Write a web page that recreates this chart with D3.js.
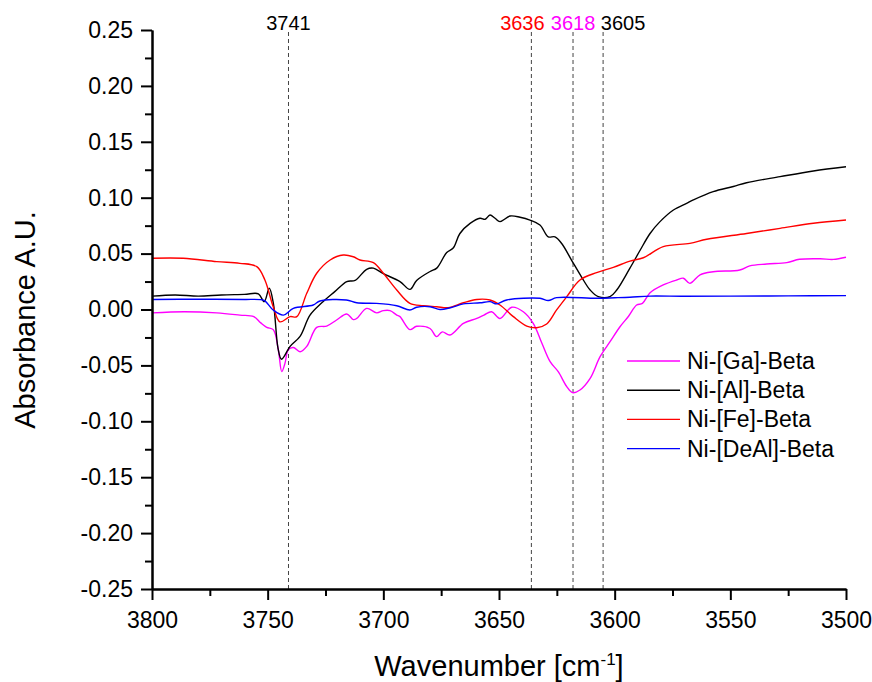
<!DOCTYPE html>
<html>
<head>
<meta charset="utf-8">
<script src="https://cdn.jsdelivr.net/npm/d3@7"></script>
<style>
  body { margin: 0; background: #fff; }
  text { font-family: "Liberation Sans", Arial, sans-serif; }
</style>
</head>
<body>
<div id="chart"></div>
<script>
// spectra: [wavenumber, absorbance]
var gaData = [
  [3800, -0.003], [3786, -0.002], [3772, -0.003], [3762, -0.005], [3756, -0.0064],
  [3753, -0.012], [3750.4, -0.016], [3747.6, -0.018], [3745.4, -0.036], [3743.9, -0.0556],
  [3742.5, -0.048], [3741.1, -0.036], [3738.9, -0.034], [3736, -0.0378], [3733.1, -0.033],
  [3728.8, -0.016], [3724.5, -0.0148], [3720.2, -0.0094], [3715.8, -0.004], [3713, -0.009],
  [3711.5, -0.008], [3707.2, 0.001], [3702.9, -0.003], [3700, -0.001], [3697.1, -0.001],
  [3694.2, -0.005], [3692.8, -0.0064], [3688.5, -0.018], [3685.6, -0.015], [3679.8, -0.017],
  [3677, -0.0243], [3674.5, -0.02], [3671.2, -0.0228], [3665.4, -0.0124], [3659.6, -0.008],
  [3656.5, -0.005], [3653.2, -0.002], [3649.6, -0.008], [3644.5, 0.002], [3639.5, -0.002],
  [3635.2, -0.0124], [3631.5, -0.030], [3627.9, -0.0467], [3624.4, -0.0556], [3620.7, -0.069],
  [3618.2, -0.0744], [3615, -0.072], [3610.6, -0.0616], [3606.3, -0.0422], [3602, -0.0288],
  [3597.7, -0.0154], [3594, -0.006], [3590.5, 0.004], [3588, 0.0055], [3584.7, 0.015],
  [3579, 0.022], [3573.2, 0.0264], [3570.3, 0.028], [3567.5, 0.0234],
  [3563.1, 0.031], [3557.4, 0.0338], [3545.9, 0.0353], [3541.6, 0.039], [3534.3, 0.0407],
  [3525.6, 0.0419], [3520.1, 0.0449], [3511.2, 0.0454], [3505.5, 0.0448], [3500, 0.0467]
];

var alData = [
  [3800, 0.012], [3790, 0.013], [3780, 0.012], [3770, 0.013], [3760, 0.0135],
  [3754, 0.014], [3751.5, 0.007], [3749.3, 0.019], [3747.5, 0.005], [3745.5, -0.035],
  [3744, -0.0445], [3740.3, -0.033], [3736, -0.024], [3731.7, -0.005], [3726.6, 0.006],
  [3721, 0.016], [3715.8, 0.025], [3712.2, 0.026], [3707.2, 0.036], [3704.3, 0.037],
  [3700, 0.032], [3692.8, 0.025], [3688.5, 0.018], [3685.6, 0.026], [3679.8, 0.034],
  [3676.9, 0.037], [3672.6, 0.051], [3669.8, 0.055], [3666.9, 0.068], [3662.5, 0.077],
  [3658.2, 0.0816], [3656, 0.0807], [3653.9, 0.0845], [3651.7, 0.0816], [3649.6, 0.0786],
  [3645.2, 0.0836], [3640.9, 0.0825], [3636.6, 0.080], [3632.3, 0.0756], [3628.7, 0.065],
  [3625.8, 0.065], [3622.9, 0.059], [3618.6, 0.044], [3614.3, 0.029], [3610.6, 0.0174],
  [3607.1, 0.0115], [3602, 0.0115], [3599.1, 0.0174], [3593.4, 0.037], [3589, 0.053],
  [3584.7, 0.068], [3580.4, 0.0786], [3574.6, 0.089], [3568.9, 0.095], [3566, 0.098],
  [3557.4, 0.1054], [3548.7, 0.110], [3543, 0.1134], [3528.5, 0.1188], [3514.1, 0.1239],
  [3500, 0.1277]
];

var feData = [
  [3800, 0.0458], [3786.5, 0.0458], [3772, 0.0428], [3762, 0.0413], [3754.7, 0.0383],
  [3751.2, 0.0264], [3747.6, 0.0025], [3744.7, -0.011], [3740.3, -0.0064], [3737.4, -0.0064],
  [3733.1, 0.0145], [3728.8, 0.0324], [3723, 0.0443], [3717.3, 0.0487], [3713, 0.0472],
  [3710.1, 0.0443], [3704.3, 0.0419], [3700, 0.0324], [3694.2, 0.0174], [3688.5, 0.0055],
  [3682.7, 0.0034], [3676.9, 0.0025], [3672, 0.0016], [3665.4, 0.006], [3659.6, 0.009],
  [3653.9, 0.0085], [3649.6, 0.004], [3643.8, -0.0064], [3638, -0.0148], [3633.7, -0.0163],
  [3629.4, -0.013], [3625.1, -0.0004], [3620.7, 0.0115], [3615, 0.0264], [3607.8, 0.033],
  [3600.6, 0.0377], [3593.4, 0.0433], [3587.6, 0.0463], [3579, 0.0562], [3567.5, 0.0592],
  [3560.2, 0.0628], [3543, 0.068], [3528.5, 0.0726], [3514.1, 0.0771], [3500, 0.080]
];

var dealData = [
  [3800, 0.009], [3780, 0.0092], [3760, 0.009], [3753, 0.0088], [3751.2, 0.0078],
  [3747.6, -0.0005], [3743.2, -0.005], [3738.9, 0.001], [3730.3, 0.004], [3727.4, 0.0076],
  [3716, 0.0085], [3711.5, 0.006], [3703, 0.0055], [3694.2, 0.0034], [3688.5, -0.0005],
  [3685.6, 0.002], [3679.8, 0.0025], [3675.5, 0], [3671, 0.0016], [3665.4, 0.005],
  [3658.2, 0.006], [3653.9, 0.007], [3651, 0.005], [3646.7, 0.0085], [3632.3, 0.010],
  [3628.7, 0.008], [3625.1, 0.0106], [3607.8, 0.010], [3600, 0.0105], [3593.4, 0.011],
  [3584.7, 0.012], [3570, 0.0118], [3550, 0.012], [3525, 0.0122], [3500, 0.0124]
];

var seriesNames = ["Ni-[Ga]-Beta", "Ni-[Al]-Beta", "Ni-[Fe]-Beta", "Ni-[DeAl]-Beta"];
var seriesColors = ["#ff00ff", "#000000", "#ff0000", "#0000ff"];
var seriesData = [gaData, alData, feData, dealData];

// marked bands and the colour of their labels
var markLines = [3741, 3636, 3618, 3605];
var markColors = ["#000000", "#ff0000", "#ff00ff", "#000000"];
var markShift = [0, -9, 0, 20]; // label nudge so they don't overlap

var xTicks = [3800, 3750, 3700, 3650, 3600, 3550, 3500];
var yTicks = [0.25, 0.20, 0.15, 0.10, 0.05, 0.00, -0.05, -0.10, -0.15, -0.20, -0.25];

var svgWidth = 872;
var svgHeight = 682;

var margin = { top: 30, right: 26, bottom: 93, left: 152 };
var width = svgWidth - margin.left - margin.right;
var height = svgHeight - margin.top - margin.bottom;

var svg = d3.select("#chart")
  .append("svg")
  .attr("width", svgWidth)
  .attr("height", svgHeight);

var chartGroup = svg.append("g")
  .attr("transform", `translate(${margin.left}, ${margin.top})`);

var xScale = d3.scaleLinear().domain([3800, 3500]).range([0, width]);
var yScale = d3.scaleLinear().domain([-0.25, 0.25]).range([height, 0]);

// dashed marker lines + labels
markLines.forEach(function(w, i) {
  chartGroup.append("line")
    .attr("x1", xScale(w)).attr("x2", xScale(w))
    .attr("y1", 2).attr("y2", height)
    .attr("stroke", "#444")
    .attr("stroke-width", 1)
    .attr("stroke-dasharray", "4,3");
  chartGroup.append("text")
    .attr("x", xScale(w) + markShift[i])
    .attr("y", 0)
    .attr("text-anchor", "middle")
    .attr("fill", markColors[i])
    .style("font-size", "20px")
    .text(w);
});

// spectra
var line = d3.line()
  .x(d => xScale(d[0]))
  .y(d => yScale(d[1]))
  .curve(d3.curveCatmullRom.alpha(0.5));

seriesData.forEach(function(data, i) {
  chartGroup.append("path")
    .datum(data)
    .attr("fill", "none")
    .attr("stroke", seriesColors[i])
    .attr("stroke-width", 1.4)
    .attr("stroke-linejoin", "round")
    .attr("d", line);
});

// axes
var bottomAxis = d3.axisBottom(xScale)
  .tickValues(xTicks)
  .tickFormat(d3.format("d"))
  .tickSizeInner(11)
  .tickSizeOuter(0)
  .tickPadding(12);

var leftAxis = d3.axisLeft(yScale)
  .tickValues(yTicks)
  .tickFormat(d => d.toFixed(2))   // plain hyphen minus like the original
  .tickSizeInner(11)
  .tickSizeOuter(0)
  .tickPadding(8);

var xMinor = d3.axisBottom(xScale)
  .tickValues(d3.range(3775, 3500, -50))
  .tickFormat("")
  .tickSizeInner(7)
  .tickSizeOuter(0);

var yMinor = d3.axisLeft(yScale)
  .tickValues(d3.range(-0.225, 0.25, 0.05))
  .tickFormat("")
  .tickSizeInner(7)
  .tickSizeOuter(0);

chartGroup.append("g")
  .attr("transform", `translate(0, ${height})`)
  .call(bottomAxis);
chartGroup.append("g")
  .attr("transform", `translate(0, ${height})`)
  .call(xMinor);
chartGroup.append("g").call(leftAxis);
chartGroup.append("g").call(yMinor);

chartGroup.selectAll(".domain").attr("stroke", "#000").attr("stroke-width", 2);
chartGroup.selectAll(".tick line").attr("stroke", "#000").attr("stroke-width", 2);
chartGroup.selectAll(".tick text")
  .attr("fill", "#000")
  .style("font-size", "23px")
  .style("font-family", "'Liberation Sans', Arial, sans-serif");

// axis titles
var xTitle = chartGroup.append("text")
  .attr("x", width / 2)
  .attr("y", height + 87)
  .attr("text-anchor", "middle")
  .style("font-size", "29px");
xTitle.append("tspan").text("Wavenumber [cm");
xTitle.append("tspan").attr("dy", -11).style("font-size", "17px").text("-1");
xTitle.append("tspan").attr("dy", 11).text("]");

chartGroup.append("text")
  .attr("transform", "rotate(-90)")
  .attr("x", 0 - 290)
  .attr("y", 0 - margin.left + 35)
  .attr("text-anchor", "middle")
  .style("font-size", "29px")
  .text("Absorbance A.U.");

// legend
var legend = chartGroup.append("g")
  .attr("transform", "translate(475, 331)");

seriesNames.forEach(function(name, i) {
  var row = legend.append("g").attr("transform", `translate(0, ${i * 29.2})`);
  row.append("line")
    .attr("x1", 0).attr("x2", 53)
    .attr("y1", 0).attr("y2", 0)
    .attr("stroke", seriesColors[i])
    .attr("stroke-width", 1.4);
  row.append("text")
    .attr("x", 60)
    .attr("y", 8)
    .style("font-size", "23px")
    .text(name);
});
</script>
</body>
</html>
